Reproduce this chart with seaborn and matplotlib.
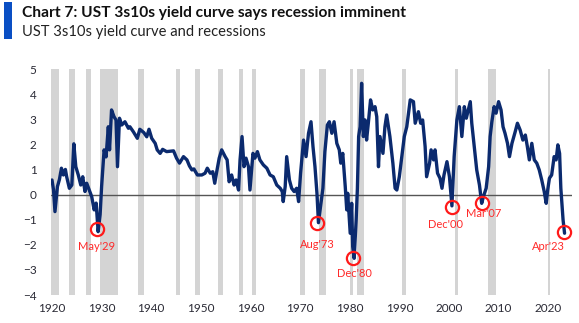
import matplotlib
matplotlib.use("Agg")
import matplotlib.pyplot as plt
import seaborn as sns
import pandas as pd
from matplotlib.patches import Rectangle

years = [1920.0, 1920.3, 1920.6, 1921.1, 1921.5, 1921.9, 1922.3, 1922.7, 1922.96, 1923.5, 1924.0, 1924.4, 1924.8,
         1925.3, 1925.8, 1926.2, 1926.65, 1927.0, 1927.5, 1928.0, 1928.5, 1928.9, 1929.3, 1929.7, 1930.0, 1930.5,
         1930.9, 1931.35, 1931.6, 1932.0, 1932.5, 1932.9, 1933.2, 1933.6, 1934.05, 1934.7, 1935.4, 1935.7, 1936.4,
         1937.2, 1937.7, 1938.5, 1939.1, 1939.55, 1940.1, 1940.8, 1941.2, 1941.8, 1942.3, 1943.1, 1944.5, 1945.1,
         1945.7, 1946.5, 1947.2, 1947.7, 1948.2, 1948.6, 1949.3, 1950.2, 1950.85, 1951.3, 1951.9, 1952.4, 1952.8,
         1953.2, 1953.7, 1954.2, 1954.9, 1955.3, 1955.7, 1956.2, 1956.7, 1957.1, 1957.6, 1957.9, 1958.3, 1958.7,
         1959.1, 1959.6, 1959.9, 1960.5, 1960.9, 1961.4, 1961.9, 1962.6, 1963.3, 1963.95, 1964.6, 1965.3, 1966.0,
         1966.4, 1966.6, 1967.0, 1967.3, 1967.85, 1968.3, 1968.8, 1969.3, 1969.7, 1970.1, 1970.7, 1971.2, 1971.7,
         1972.2, 1972.6, 1973.0, 1973.4, 1973.7, 1974.2, 1974.6, 1975.0, 1975.5, 1975.9, 1976.4, 1976.85, 1977.4,
         1977.9, 1978.2, 1978.6, 1979.1, 1979.4, 1979.6, 1980.1, 1980.4, 1980.6, 1980.9, 1981.3, 1981.55, 1981.8,
         1982.1, 1982.4, 1982.75, 1983.1, 1983.4, 1983.75, 1984.2, 1984.65, 1985.1, 1985.45, 1985.8, 1986.1,
         1986.7, 1987.1, 1987.45, 1987.8, 1988.1, 1988.7, 1989.15, 1989.5, 1990.0, 1990.5, 1991.0, 1991.5, 1992.2,
         1992.85, 1993.2, 1993.85, 1994.3, 1994.7, 1995.2, 1995.5, 1996.1, 1996.4, 1996.9, 1997.2, 1997.7, 1998.2,
         1998.6, 1999.0, 1999.6, 2000.1, 2000.6, 2001.05, 2001.6, 2002.1, 2002.6, 2003.1, 2003.5, 2003.9, 2004.3,
         2004.6, 2005.1, 2005.6, 2006.15, 2006.6, 2006.95, 2007.5, 2008.0, 2008.3, 2008.65, 2009.1, 2009.5, 2010.0,
         2010.5, 2010.9, 2011.3, 2011.8, 2012.2, 2012.7, 2013.35, 2013.8, 2014.35, 2014.9, 2015.4, 2015.8, 2016.2,
         2016.7, 2017.2, 2017.7, 2018.2, 2018.7, 2019.2, 2019.6, 2019.9, 2020.25, 2020.7, 2021.2, 2021.6, 2021.95,
         2022.3, 2022.55, 2023.0, 2023.3]
spread = [0.58, 0.2, -0.68, 0.32, 0.6, 1.05, 0.78, 1.0, 0.71, 0.25, 0.38, 2.02, 1.11,
          0.78, 0.38, 0.71, 0.12, 0.45, 0.18, -0.08, -0.61, -0.34, -1.48, -0.8, 0.32, 1.78,
          1.5, 2.7, 1.78, 3.37, 3.1, 2.97, 1.11, 3.04, 2.77, 2.9, 2.64, 2.7, 2.5,
          2.24, 2.6, 2.47, 2.3, 2.6, 2.24, 2.04, 1.78, 1.64, 1.8, 1.71, 1.74, 1.45,
          1.25, 1.51, 1.38, 1.14, 0.98, 1.02, 0.78, 0.78, 0.85, 1.05, 0.85, 0.91, 0.45,
          0.91, 1.45, 1.78, 1.51, 1.38, 0.51, 0.78, 0.38, 0.58, 0.18, 1.38, 2.31, 1.11,
          1.45, 1.11, 0.18, 1.64, 1.45, 1.71, 1.38, 1.18, 1.05, 0.78, 0.71, 0.38, 0.25,
          0.12, -0.28, 0.32, 1.51, 0.58, 0.25, 0.12, 0.25, -0.28, 0.85, 2.17, 1.51, 2.44,
          2.9, 1.91, 1.11, 0.05, -1.12, -0.35, 0.25, 1.71, 2.77, 2.9, 2.44, 2.9, 2.04,
          1.78, 1.25, 1.64, 0.32, -0.61, 0.05, -1.54, -0.35, -2.07, -2.54, -1.01, 0.25, 2.31,
          2.7, 4.43, 2.31, 2.97, 2.17, 2.84, 3.77, 3.37, 3.5, 3.1, 1.11, 2.31,
          1.64, 2.7, 3.17, 2.7, 2.31, 1.25, 0.25, 0.18, 0.71, 1.51, 2.31, 2.7, 3.77,
          3.7, 2.84, 3.3, 2.84, 2.97, 1.91, 0.71, 1.25, 1.78, 1.38, 1.78, 0.85, 0.65,
          0.25, 0.78, 1.31, 0.71, -0.45, 1.51, 2.97, 3.5, 2.31, 3.5, 3.04, 3.37, 3.7,
          2.84, 1.91, 0.98, 0.38, -0.35, -0.08, 0.25, 1.11, 2.31, 2.9, 3.5, 3.24, 3.7,
          3.37, 2.7, 2.44, 2.04, 1.51, 2.04, 2.5, 2.84, 2.57, 2.17, 2.37, 1.91, 1.38,
          2.04, 1.38, 1.25, 0.98, 0.58, 0.12, -0.35, 0.18, 0.65, 0.78, 1.51, 1.38, 1.98,
          1.64, 0.25, -1.01, -1.54]

rec_start = [1919.8, 1923.4, 1926.8, 1929.6, 1937.4, 1944.9, 1948.8, 1953.5, 1957.6, 1960.3, 1969.9, 1973.8,
             1980.0, 1981.5, 1990.5, 2001.2, 2007.9, 2020.0]
rec_end = [1921.5, 1924.6, 1927.9, 1933.3, 1938.5, 1945.8, 1949.8, 1954.4, 1958.4, 1961.2, 1970.9, 1975.2,
           1980.6, 1982.9, 1991.3, 2001.9, 2009.5, 2020.4]

ann_labels = ["May'29", "Aug'73", "Dec'80", "Dec'00", "Mar'07", "Apr'23"]
ann_x = [1929.0, 1973.4, 1980.6, 2000.6, 2006.75, 2023.1]
ann_y = [-1.38, -1.12, -2.54, -0.48, -0.35, -1.5]
lab_x = [1929.0, 1973.4, 1981.0, 1999.3, 2007.0, 2020.0]
lab_y = [-2.07, -1.98, -3.14, -1.21, -0.77, -2.07]

yticks = [5, 4, 3, 2, 1, 0, -1, -2, -3, -4]
xticks = [1920, 1930, 1940, 1950, 1960, 1970, 1980, 1990, 2000, 2010, 2020]

sns.set_style("white")
plt.rcParams['font.family'] = ['Lato', 'DejaVu Sans']

W, H = 579, 323
fig = plt.figure(figsize=(W / 100, H / 100), dpi=100)
ax = fig.add_axes([50.5 / W, 1 - 295 / H, (572 - 50.5) / W, 226 / H])

for s, e in zip(rec_start, rec_end):
    ax.axvspan(s, e, color='#d4d4d4', lw=0, zorder=0)

ax.axhline(0, color='#555555', lw=1.0, zorder=1)

df = pd.DataFrame({'year': years, 'spread': spread})
sns.lineplot(data=df, x='year', y='spread', ax=ax, color='#0b2a6e', linewidth=2.4, zorder=3)

ax.plot(ann_x, ann_y, 'o', ms=9.5, mfc='none', mec='#ff1a1a', mew=1.6, zorder=4)
for t, x, y in zip(ann_labels, lab_x, lab_y):
    ax.text(x, y, t, color='#ff2a2a', fontsize=8, ha='center', va='center', zorder=5)

ax.set_xlim(1919.7, 2024.8)
ax.set_ylim(-4, 5)
ax.set_yticks(yticks)
ax.set_xticks(xticks)
ax.tick_params(axis='both', length=0, labelsize=8.5, labelcolor='#2a2a35')
ax.tick_params(axis='y', pad=10)
ax.tick_params(axis='x', pad=6)
ax.set_xlabel('')
ax.set_ylabel('')
for sp in ax.spines.values():
    sp.set_visible(False)

fig.add_artist(Rectangle((4 / W, 1 - 39 / H), 8 / W, 37 / H, transform=fig.transFigure,
                         color='#0a4fc4', lw=0))
fig.text(22 / W, 1 - 13 / H, 'Chart 7: UST 3s10s yield curve says recession imminent',
         fontsize=11.2, fontweight='bold', va='center', ha='left', color='#111111')
fig.text(22 / W, 1 - 32 / H, 'UST 3s10s yield curve and recessions',
         fontsize=10.6, va='center', ha='left', color='#222222')

fig.savefig('out.png', dpi=100)
